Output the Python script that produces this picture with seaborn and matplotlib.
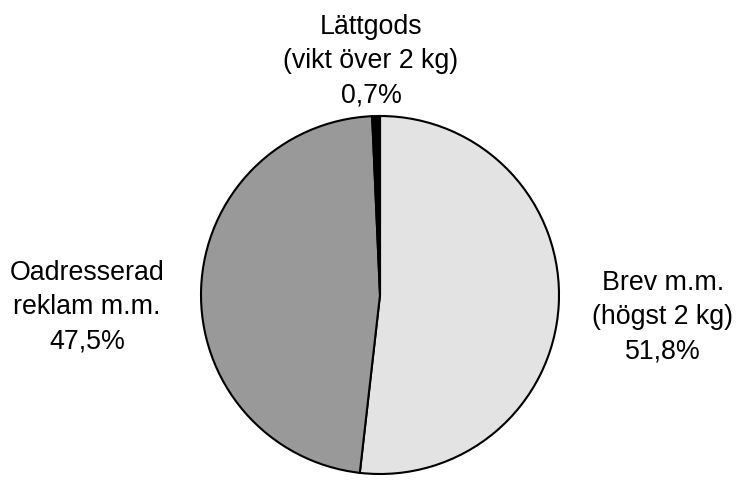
import matplotlib
matplotlib.use('Agg')
import matplotlib.pyplot as plt
import seaborn as sns

# andelar av postvolymen
kategorier = ["Brev m.m.\n(högst 2 kg)", "Oadresserad\nreklam m.m.", "Lättgods\n(vikt över 2 kg)"]
andelar = [51.8, 47.5, 0.7]
etiketter = ["51,8%", "47,5%", "0,7%"]
farger = ["#e3e3e3", "#999999", "#000000"]

sns.set_theme(style="white")
plt.rcParams['font.family'] = ['Liberation Sans', 'DejaVu Sans']

W, H = 736, 489
cx, cy, r = 380, 296, 179

fig = plt.figure(figsize=(W / 100, H / 100), dpi=100)
ax = fig.add_axes([0, 0, 1, 1])

ax.pie(
    andelar,
    colors=farger,
    startangle=90,
    counterclock=False,
    radius=1,
    wedgeprops={"edgecolor": "black", "linewidth": 1.5},
)

# pie() sätter egna gränser, så de sätts efteråt
ax.set_xlim(-cx / r, (W - cx) / r)
ax.set_ylim(-(H - cy) / r, cy / r)
ax.set_aspect('equal')
ax.axis('off')

# etikettpositioner i pixlar (x, y från toppen)
lagen = [(663, 317), (87, 307), (371, 61)]
for kat, et, (px, py) in zip(kategorier, etiketter, lagen):
    ax.text((px - cx) / r, (cy - py) / r, f"{kat}\n{et}",
            ha="center", va="center", fontsize=19.3, linespacing=1.4,
            color="black")

fig.savefig("out.png", dpi=100)
plt.close(fig)
